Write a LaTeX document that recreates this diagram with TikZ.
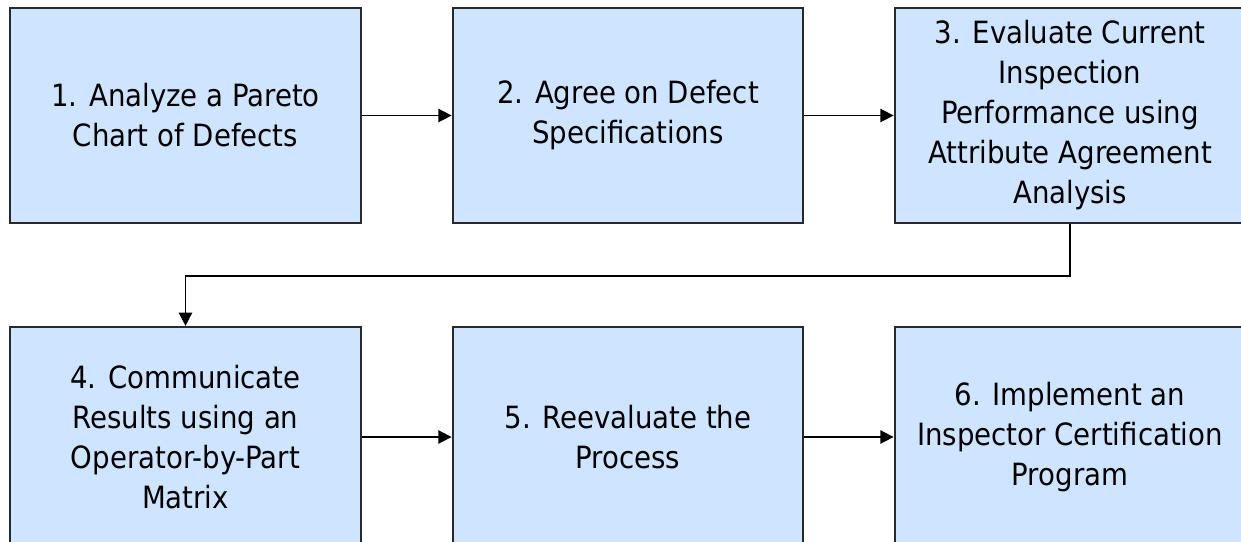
\documentclass[tikz,border=0pt]{standalone}
\usepackage{fontspec}
\setmainfont{DejaVu Sans Condensed}
\usetikzlibrary{arrows.meta}
\definecolor{boxfill}{RGB}{206,229,255}
\definecolor{boxline}{RGB}{40,40,45}
\tikzset{
  stepbox/.style={draw=boxline, line width=1.6pt, fill=boxfill, rectangle,
    minimum width=263pt, minimum height=161pt, align=center, inner sep=0pt,
    font=\fontsize{23}{30}\selectfont, text=black},
  tallbox/.style={stepbox, minimum height=165pt},
  conn/.style={draw=black, line width=1.25pt, -{Triangle[length=10pt,width=10pt]}}
}
\begin{document}
\begin{tikzpicture}[x=0.75pt,y=-0.75pt]
\useasboundingbox (0,0) rectangle (1241,542);
\clip (0,0) rectangle (1241,542);
\node[stepbox] (b1) at (185.5,115.5) {1. Analyze a Pareto\\Chart of Defects};
\node[stepbox] (b2) at (628,115.5) {2. Agree on Defect\\Specifications};
\node[stepbox] (b3) at (1070,115.5) {3. Evaluate Current\\Inspection\\Performance using\\Attribute Agreement\\Analysis};
\node[tallbox] (b4) at (185.5,437) {4. Communicate\\Results using an\\Operator-by-Part\\Matrix};
\node[tallbox] (b5) at (628,437) {5. Reevaluate the\\Process};
\node[tallbox] (b6) at (1070,437) {6. Implement an\\Inspector Certification\\Program};
\draw[conn] (b1) -- (b2);
\draw[conn] (b2) -- (b3);
\draw[conn] (b3.south) -- ++(0,52) -| (b4.north);
\draw[conn] (b4) -- (b5);
\draw[conn] (b5) -- (b6);
\end{tikzpicture}
\end{document}
